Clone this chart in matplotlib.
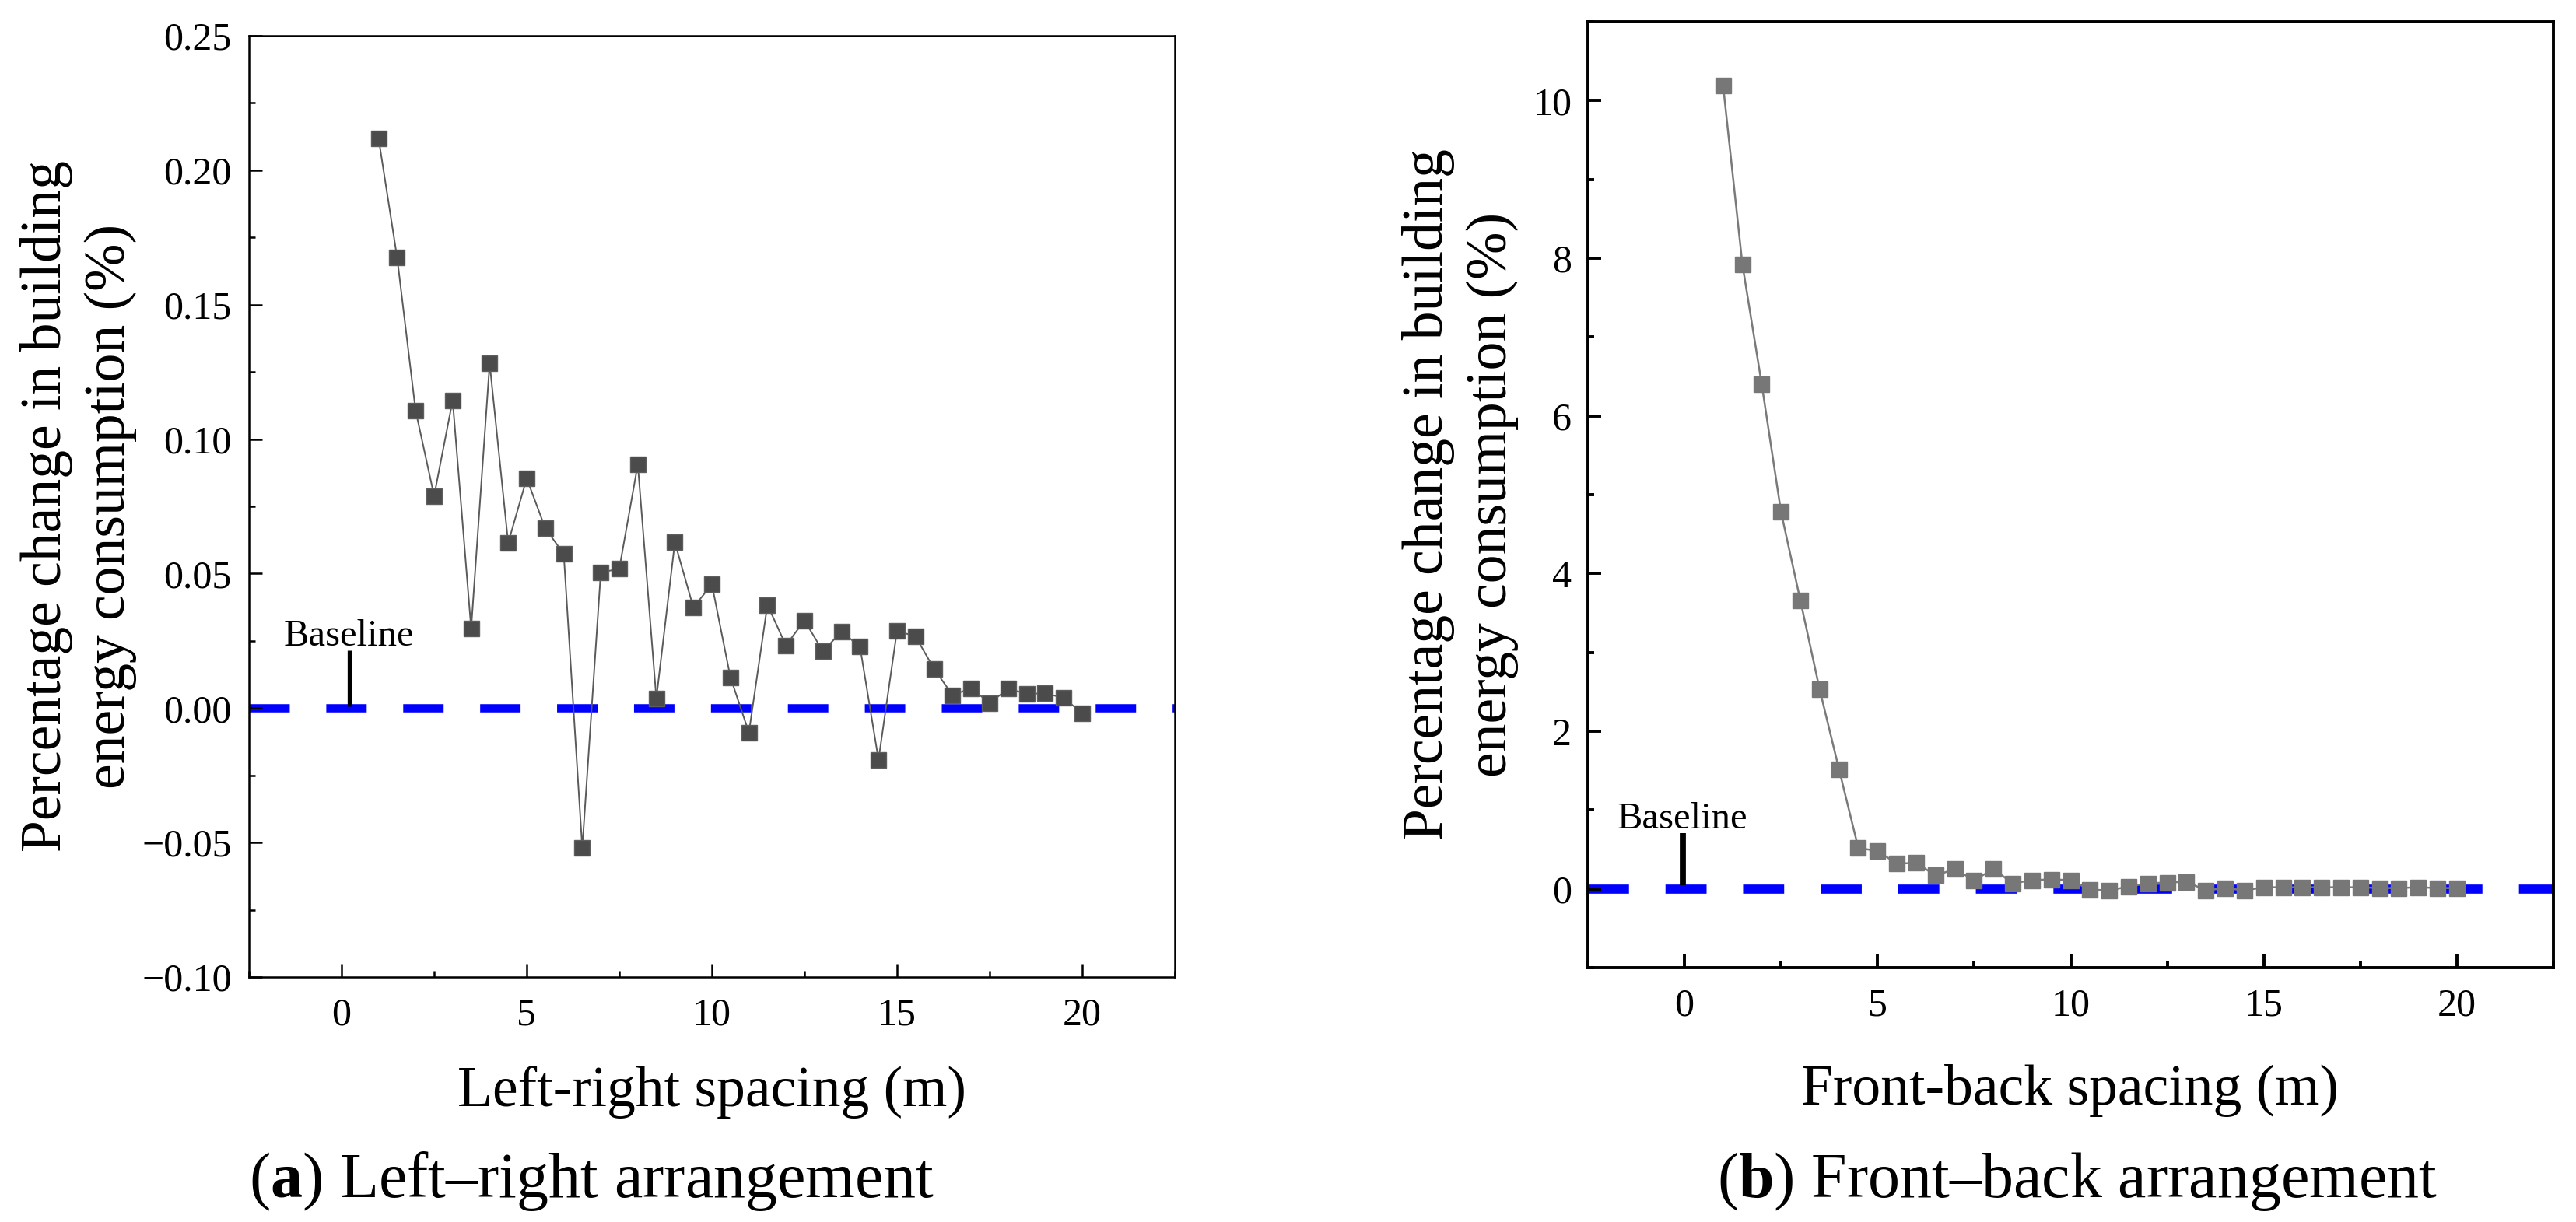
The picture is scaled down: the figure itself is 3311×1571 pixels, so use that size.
import numpy as np
import matplotlib
matplotlib.use('Agg')
import matplotlib.pyplot as plt
from matplotlib.ticker import MultipleLocator

plt.rcParams['font.family'] = ['Liberation Serif', 'DejaVu Serif']
plt.rcParams['mathtext.fontset'] = 'custom'
plt.rcParams['mathtext.rm'] = 'Liberation Serif'
plt.rcParams['mathtext.bf'] = 'Liberation Serif:bold'
plt.rcParams['lines.scale_dashes'] = False

# Data
spacing = np.arange(1.0, 20.01, 0.5)

left_right_change = [0.2118, 0.1676, 0.1106, 0.0789, 0.1144, 0.0295, 0.1281, 0.0614,
                     0.0854, 0.0669, 0.0573, -0.0520, 0.0504, 0.0518, 0.0906, 0.0036,
                     0.0616, 0.0374, 0.0460, 0.0115, -0.0091, 0.0384, 0.0233, 0.0326,
                     0.0211, 0.0285, 0.0228, -0.0192, 0.0288, 0.0266, 0.0146, 0.0048,
                     0.0074, 0.0019, 0.0072, 0.0053, 0.0055, 0.0038, -0.0019]

front_back_change = [10.19, 7.92, 6.40, 4.78, 3.66, 2.53, 1.52, 0.52,
                     0.48, 0.32, 0.33, 0.17, 0.25, 0.11, 0.25, 0.07,
                     0.11, 0.12, 0.11, -0.01, -0.02, 0.03, 0.07, 0.08,
                     0.09, -0.02, 0.01, -0.02, 0.02, 0.02, 0.02, 0.02,
                     0.02, 0.02, 0.01, 0.01, 0.02, 0.01, 0.01]

baseline = 0.0

ylabel_text = 'Percentage change in building\nenergy consumption (%)'

W, H = 3312, 1571
DPI = 200
fig = plt.figure(figsize=(W / DPI, H / DPI), dpi=DPI)


def px_box(x0, y0, x1, y1):
    # pixel box (top-left origin) -> figure fraction rect
    return [x0 / W, 1 - y1 / H, (x1 - x0) / W, (y1 - y0) / H]


ax1 = fig.add_axes(px_box(320, 46, 1510, 1256))
ax2 = fig.add_axes(px_box(2041, 28, 3282, 1244))


def style_axes(ax, lw, ypad):
    for s in ax.spines.values():
        s.set_linewidth(lw)
    ax.tick_params(which='both', direction='in', top=False, right=False,
                   width=lw, labelsize=18)
    ax.tick_params(which='major', length=6)
    ax.tick_params(which='minor', length=3)
    ax.tick_params(axis='x', which='both', pad=9.5)
    ax.tick_params(axis='y', which='both', pad=ypad)
    ax.set_xlim(-2.5, 22.5)
    ax.xaxis.set_major_locator(MultipleLocator(5))
    ax.xaxis.set_minor_locator(MultipleLocator(2.5))


# (a) left-right
style_axes(ax1, 0.9, 8)
ax1.set_ylim(-0.10, 0.25)
ax1.yaxis.set_major_locator(MultipleLocator(0.05))
ax1.yaxis.set_minor_locator(MultipleLocator(0.025))
ax1.axhline(baseline, color='#0000ff', lw=3.8, dashes=(18.7, 16.9), zorder=1.5)
ax1.plot(spacing, left_right_change, color='#5a5a5a', lw=0.7, marker='s', ms=7,
         mfc='#4b4b4b', mec='#5e5e5e', mew=0.5, zorder=3)
ax1.plot([0.2, 0.2], [0.0008, 0.0214], color='black', lw=1.9, solid_capstyle='butt')
ax1.text(0.2, 0.0231, 'Baseline', ha='center', va='baseline', fontsize=17.5)

# (b) front-back
style_axes(ax2, 1.4, 7.5)
ax2.set_ylim(-1, 11)
ax2.yaxis.set_major_locator(MultipleLocator(2))
ax2.yaxis.set_minor_locator(MultipleLocator(1))
ax2.axhline(baseline, color='#0000ff', lw=4.2, dashes=(19.0, 16.9), zorder=1.5)
ax2.plot(spacing, front_back_change, color='#7a7a7a', lw=0.9, marker='s', ms=7.2,
         mfc='#777777', mec='#777777', mew=0.5, zorder=3)
ax2.plot([-0.05, -0.05], [0.05, 0.71], color='black', lw=2.8, solid_capstyle='butt')
ax2.text(-0.05, 0.77, 'Baseline', ha='center', va='baseline', fontsize=17.5)

# axis labels
fig.text(101 / W, 1 - 651 / H, ylabel_text, rotation=90, ha='center', va='center',
         fontsize=26.5, linespacing=1.28, multialignment='center')
fig.text(1877 / W, 1 - 636 / H, ylabel_text, rotation=90, ha='center', va='center',
         fontsize=26.5, linespacing=1.3, multialignment='center')
fig.text(915 / W, 1 - 1422 / H, 'Left-right spacing (m)', ha='center', va='baseline',
         fontsize=26.5)
fig.text(2661 / W, 1 - 1420 / H, 'Front-back spacing (m)', ha='center', va='baseline',
         fontsize=26.5)

# sub-captions
fig.text(760 / W, 1 - 1539 / H, r'($\mathbf{a}$) Left–right arrangement', ha='center',
         va='baseline', fontsize=29.5)
fig.text(2670 / W, 1 - 1539 / H, r'($\mathbf{b}$) Front–back arrangement', ha='center',
         va='baseline', fontsize=29.5)

fig.savefig('out.png', dpi=DPI, facecolor='white')
